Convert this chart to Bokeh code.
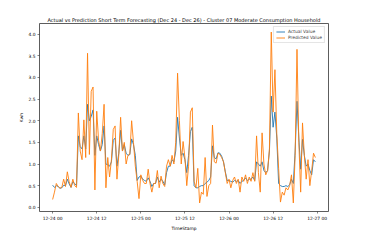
import pandas as pd
from bokeh.plotting import figure
from bokeh.models import (FixedTicker, DatetimeTickFormatter, Legend, LegendItem,
                          ColumnDataSource, Range1d, NumeralTickFormatter)
from bokeh.embed import file_html
from bokeh.resources import INLINE

start = "2023-12-24 00:00"
freq = "30min"

actual = [0.51, 0.46, 0.50, 0.48, 0.44, 0.45, 0.51, 0.50, 0.65, 0.54,
          0.46, 0.59, 0.55, 0.50, 1.65, 1.40, 1.35, 1.65, 1.35, 2.38,
          2.00, 2.10, 2.25, 1.20, 1.65, 1.45, 1.30, 1.45, 1.88, 1.00,
          0.98, 0.95, 1.05, 1.55, 1.60, 0.95, 1.25, 1.78, 1.30, 1.45,
          1.25, 1.20, 1.22, 1.58, 1.45, 1.20, 0.62, 0.70, 0.72, 0.65,
          0.62, 0.60, 0.68, 0.60, 0.48, 0.55, 0.55, 0.70, 0.58, 0.65,
          0.60, 0.52, 0.80, 0.95, 0.95, 1.10, 1.05, 1.30, 2.08, 1.60,
          1.20, 1.25, 1.10, 0.80, 1.20, 1.75, 1.85, 0.50, 0.45, 0.45,
          0.48, 0.50, 0.50, 0.55, 0.58, 0.62, 0.70, 1.42, 1.15, 1.12,
          1.26, 1.25, 1.18, 1.05, 0.82, 0.62, 0.62, 0.60, 0.58, 0.62,
          0.60, 0.62, 0.55, 0.60, 0.62, 0.68, 0.62, 0.65, 0.65, 0.70,
          0.62, 1.05, 1.00, 0.95, 1.05, 0.85, 0.80, 0.85, 1.30, 2.57,
          1.85, 2.20, 1.60, 0.55, 0.50, 0.48, 0.48, 0.50, 0.48, 0.52,
          0.65, 0.55, 1.30, 2.45, 1.60, 0.88, 1.57, 1.20, 0.95, 1.00,
          0.85, 0.75, 1.10, 1.05]

predicted = [0.18, 0.35, 0.55, 0.48, 0.44, 0.46, 0.65, 0.48, 0.82, 0.59,
             0.46, 0.65, 0.50, 0.46, 2.18, 1.30, 1.10, 2.02, 1.15, 3.56,
             1.22, 2.68, 2.78, 0.40, 2.22, 1.55, 1.30, 1.70, 2.38, 0.45,
             1.15, 0.70, 1.10, 1.80, 1.88, 0.65, 1.20, 2.08, 1.30, 1.50,
             1.00, 1.20, 1.22, 2.00, 1.50, 0.95, 0.60, 0.20, 0.75, 0.62,
             0.55, 0.55, 0.88, 0.55, 0.35, 0.55, 0.55, 0.85, 0.45, 0.72,
             0.55, 0.48, 0.95, 1.10, 0.95, 1.20, 1.00, 1.50, 3.10, 2.00,
             1.00, 1.52, 1.15, 0.50, 0.95, 2.20, 2.30, 0.60, 0.45, 0.90,
             0.10, 0.35, 0.30, 1.15, 0.25, 0.50, 0.55, 1.90, 1.05, 1.02,
             1.25, 1.22, 1.15, 1.05, 0.80, 0.55, 0.65, 0.45, 0.62, 0.70,
             0.55, 0.65, 0.35, 0.70, 0.60, 0.75, 0.55, 0.70, 0.60, 0.80,
             0.60, 1.65, 0.80, 0.35, 1.72, 1.00, 0.75, 0.85, 1.35, 4.05,
             2.20, 3.18, 1.70, 0.90, 0.12, 0.35, 0.28, 0.45, 0.40, 0.50,
             0.75, 0.10, 1.20, 3.65, 1.50, 0.35, 1.95, 1.20, 0.65, 1.10,
             0.50, 0.85, 1.25, 1.15]

x_tick_dates = ["2023-12-24 00:00", "2023-12-24 12:00", "2023-12-25 00:00",
                "2023-12-25 12:00", "2023-12-26 00:00", "2023-12-26 12:00",
                "2023-12-27 00:00"]
y_ticks = [0.0, 0.5, 1.0, 1.5, 2.0, 2.5, 3.0, 3.5, 4.0]

times = pd.date_range(start=start, periods=len(actual), freq=freq)
src = ColumnDataSource(dict(t=times, actual=actual, predicted=predicted))

t0 = times[0]
t1 = times[-1]
span = t1 - t0
ymin = min(min(actual), min(predicted))
ymax = max(max(actual), max(predicted))
yspan = ymax - ymin

p = figure(width=358, height=233, x_axis_type="datetime",
           output_backend="svg", toolbar_location=None,
           min_border_left=39, min_border_right=30,
           min_border_top=23, min_border_bottom=20,
           x_range=Range1d(t0 - 0.05 * span, t1 + 0.05 * span),
           y_range=Range1d(ymin - 0.05 * yspan, ymax + 0.05 * yspan))

p.title.text = "Actual vs Prediction Short Term Forecasting (Dec 24 - Dec 26) - Cluster 07 Moderate Consumption Household"
p.title.text_font = "DejaVu Sans"
p.title.text_font_size = "5px"
p.title.text_font_style = "normal"
p.title.align = "center"
p.title.standoff = 2
p.title.text_color = "black"

r1 = p.line("t", "actual", source=src, line_color="#1f77b4", line_width=0.9)
r2 = p.line("t", "predicted", source=src, line_color="#ff7f0e", line_width=0.9)

tick_ms = [pd.Timestamp(d).value / 1e6 for d in x_tick_dates]
p.xaxis.ticker = FixedTicker(ticks=tick_ms)
p.xaxis.formatter = DatetimeTickFormatter(hours="%m-%d %H", days="%m-%d %H",
                                          months="%m-%d %H", minutes="%m-%d %H")
p.yaxis.ticker = FixedTicker(ticks=y_ticks)
p.yaxis.formatter = NumeralTickFormatter(format="0.0")

for ax in (p.xaxis[0], p.yaxis[0]):
    ax.major_label_text_font = "DejaVu Sans"
    ax.major_label_text_font_size = "4.4px"
    ax.major_label_text_color = "black"
    ax.axis_label_text_font = "DejaVu Sans"
    ax.axis_label_text_font_size = "4.4px"
    ax.axis_label_text_font_style = "normal"
    ax.axis_label_text_color = "black"
    ax.major_tick_in = 0
    ax.major_tick_out = 2
    ax.minor_tick_in = 0
    ax.minor_tick_out = 0
    ax.major_tick_line_width = 0.6
    ax.major_tick_line_color = "#333333"
    ax.axis_line_color = None
    ax.major_label_standoff = 2
    ax.axis_label_standoff = 2

p.xaxis.axis_label = "TimeStamp"
p.yaxis.axis_label = "Kwh"

p.xgrid.visible = False
p.ygrid.visible = False
p.outline_line_color = "#333333"
p.outline_line_width = 0.8
p.background_fill_color = "white"
p.border_fill_color = "white"

legend = Legend(items=[LegendItem(label="Actual Value", renderers=[r1]),
                       LegendItem(label="Predicted Value", renderers=[r2])],
                location="top_right")
legend.label_text_font = "DejaVu Sans"
legend.label_text_font_size = "4.4px"
legend.label_height = 5
legend.label_standoff = 3
legend.glyph_width = 9
legend.glyph_height = 5
legend.spacing = 1
legend.padding = 2
legend.margin = 3
legend.border_line_color = "#cccccc"
legend.border_line_width = 0.6
legend.background_fill_alpha = 0.8
p.add_layout(legend)

open("out.html", "w").write(file_html(p, INLINE))
